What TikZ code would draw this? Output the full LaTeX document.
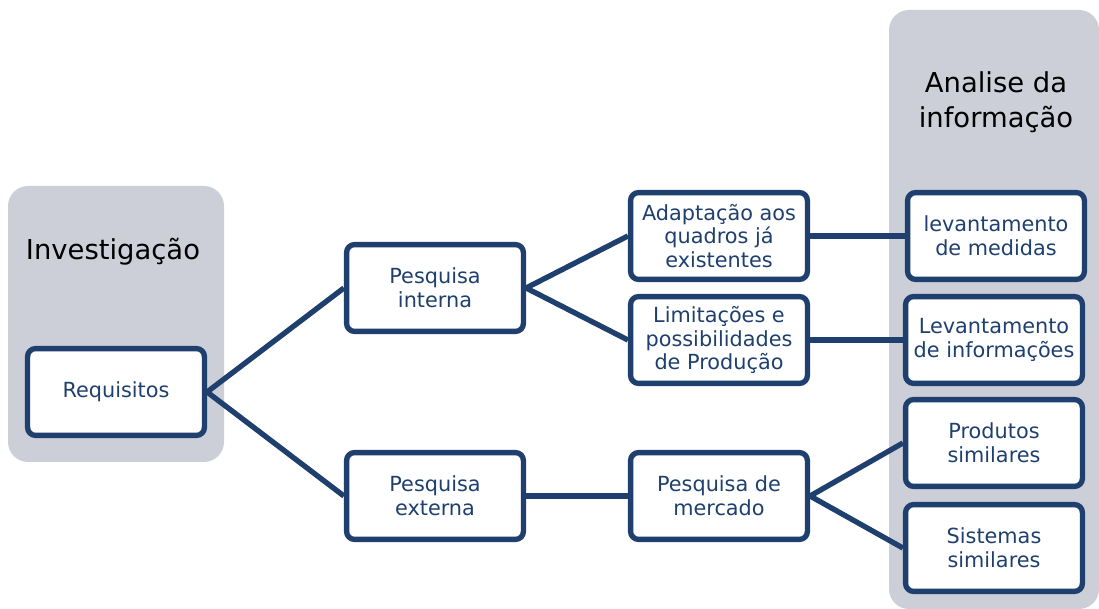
\documentclass[tikz,border=0pt]{standalone}
\usepackage{fontspec}
\setmainfont{DejaVu Sans}
\definecolor{azul}{RGB}{31,64,110}
\definecolor{cinza}{RGB}{204,207,216}
\begin{document}
\begin{tikzpicture}[x=0.025cm,y=-0.025cm]
% estilos de caixas e ligacoes
\tikzstyle{painel}=[fill=cinza,rounded corners=0.5cm]
\tikzstyle{titulo}=[black,align=center,font=\fontsize{19.5}{25}\selectfont]
\tikzstyle{caixa}=[draw=azul,line width=3.8pt,fill=white,rounded corners=0.2cm,
  minimum width=4.42cm,minimum height=2.17cm,inner sep=0pt,
  text=azul,align=center,font=\fontsize{14.8}{17}\selectfont]
\tikzstyle{liga}=[draw=azul,line width=3.8pt]
\useasboundingbox (0,0) rectangle (1099,609);
% paineis de fundo
\fill[painel] (8,186) rectangle (224,462);
\fill[painel] (889,10) rectangle (1099,609);
\node[titulo] (invest) at (113,252) {Investigação};
\node[titulo] (analise) at (996,102) {Analise da\\informação};
% caixas
\begin{scope}
\node[caixa] (req) at (116,392) {Requisitos};
\node[caixa] (pint) at (435,288) {Pesquisa\\interna};
\node[caixa] (pext) at (435,496) {Pesquisa\\externa};
\node[caixa] (adapt) at (719,236) {Adaptação aos\\quadros já\\existentes};
\node[caixa] (limit) at (719,340) {Limitações e\\possibilidades\\de Produção};
\node[caixa] (merc) at (719,496) {Pesquisa de\\mercado};
\node[caixa] (medid) at (996,236) {levantamento\\de medidas};
\node[caixa] (infor) at (994,340) {Levantamento\\de informações};
\node[caixa] (prod) at (994,443) {Produtos\\similares};
\node[caixa] (sist) at (994,548) {Sistemas\\similares};
\end{scope}
% ligacoes
\draw[liga] (req.east) -- (pint.west);
\draw[liga] (req.east) -- (pext.west);
\draw[liga] (pint.east) -- (adapt.west);
\draw[liga] (pint.east) -- (limit.west);
\draw[liga] (pext.east) -- (merc.west);
\draw[liga] (adapt.east) -- (medid.west);
\draw[liga] (limit.east) -- (infor.west);
\draw[liga] (merc.east) -- (prod.west);
\draw[liga] (merc.east) -- (sist.west);
\end{tikzpicture}
\end{document}
